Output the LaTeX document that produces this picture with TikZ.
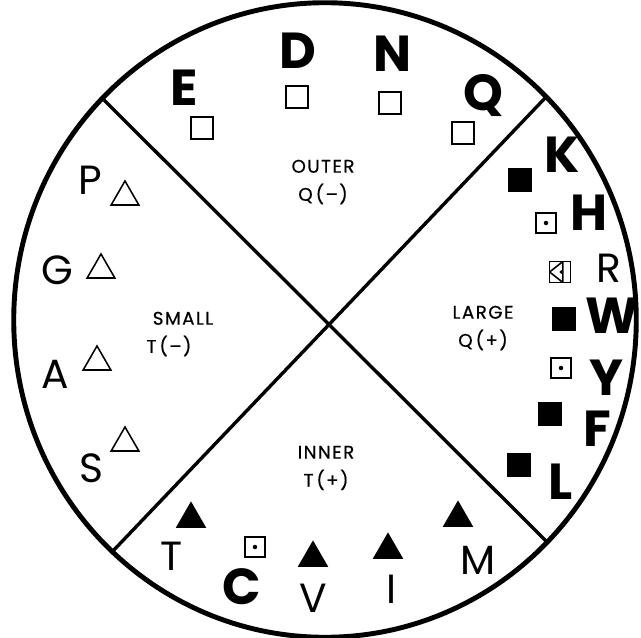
\documentclass[tikz,border=0pt]{standalone}
\usepackage{fontspec}
\setmainfont{Poppins}
\usepackage{tikz}
\usetikzlibrary{shapes.geometric}

\begin{document}
\begin{tikzpicture}[x=0.025cm, y=-0.025cm,
	bigbold/.style={font=\fontsize{36}{36}\selectfont\bfseries, inner sep=0pt},
	bigthin/.style={font=\fontsize{29}{29}\selectfont, inner sep=0pt},
	zone/.style={font=\fontsize{13}{20}\selectfont\addfontfeature{LetterSpace=8,FakeBold=0.6},
		align=center, inner sep=0pt},
	opensq/.style={draw, line width=1.1pt, minimum size=0.55cm, inner sep=0pt},
	fullsq/.style={fill, minimum size=0.6cm, inner sep=0pt},
	dotsq/.style={draw, line width=1.1pt, minimum size=0.5cm, inner sep=0pt,
		path picture={\fill (path picture bounding box.center) circle (1.6pt);}},
	opentri/.style={draw, line width=1.1pt, regular polygon, regular polygon sides=3,
		minimum size=0.8cm, inner sep=0pt},
	fulltri/.style={fill, regular polygon, regular polygon sides=3,
		minimum size=0.88cm, inner sep=0pt}]
	\useasboundingbox (0,0) rectangle (641,638);
	% outline and the two crossing chords
	\coordinate (hub) at (325,320);
	\draw[line width=3.5pt] (hub) ellipse [x radius=7.78cm, y radius=7.93cm];
	\coordinate (nw) at (104,100);
	\coordinate (se) at (548,543);
	\coordinate (ne) at (547,96);
	\coordinate (sw) at (112,552);
	\draw[line width=2.4pt] (nw) -- (se);
	\draw[line width=2.4pt] (ne) -- (sw);
	% quadrant names
	\node[zone] (outer) at (323,182) {OUTER\\Q\,(--)};
	\node[zone] (small) at (183,334) {SMALL\\\hspace*{-20pt}T\,(--)};
	\node[zone] (large) at (483,328) {LARGE\\Q\,(+)};
	\node[zone] (inner) at (326,468) {INNER\\T\,(+)};
	% top: open squares
	\node[bigbold] (lblE) at (184,88) {E};
	\node[opensq] (symE) at (202,128) {};
	\node[bigbold] (lblD) at (298,51) {D};
	\node[opensq] (symD) at (297,97) {};
	\node[bigbold] (lblN) at (393,54) {N};
	\node[opensq] (symN) at (390,103) {};
	\node[bigbold] (lblQ) at (483,96) {Q};
	\node[opensq] (symQ) at (463,133) {};
	% right: filled and marked squares
	\node[bigbold] (lblK) at (562,155) {K};
	\node[fullsq] (symK) at (520,180) {};
	\node[bigbold] (lblH) at (589,213) {H};
	\node[dotsq] (symH) at (546,223) {};
	\node[bigthin] (lblR) at (609,268) {R};
	\node[draw, line width=1.1pt, minimum size=0.52cm, inner sep=0pt,
		path picture={
			\draw[line width=1.1pt] ([xshift=2pt]path picture bounding box.north)
			-- (path picture bounding box.west)
			-- ([xshift=2pt]path picture bounding box.south) -- cycle;
			\fill ([xshift=1pt]path picture bounding box.center) circle (1.4pt);}]
		(symR) at (560,272) {};
	\node[bigbold] (lblW) at (612,316) {W};
	\node[fullsq] (symW) at (564,319) {};
	\node[bigbold] (lblY) at (606,378) {Y};
	\node[dotsq] (symY) at (561,368) {};
	\node[bigbold] (lblF) at (597,429) {F};
	\node[fullsq] (symF) at (550,414) {};
	\node[bigbold] (lblL) at (561,482) {L};
	\node[fullsq] (symL) at (519,465) {};
	% bottom: filled triangles
	\node[bigthin] (lblT) at (172,556) {T};
	\node[fulltri] (symT) at (191,519) {};
	\node[bigbold] (lblC) at (242,587) {C};
	\node[dotsq] (symC) at (255,547) {};
	\node[bigthin] (lblV) at (313,598) {V};
	\node[fulltri] (symV) at (313,558) {};
	\node[bigthin] (lblI) at (392,589) {I};
	\node[fulltri] (symI) at (388,550) {};
	\node[bigthin] (lblM) at (478,560) {M};
	\node[fulltri] (symM) at (458,518) {};
	% left: open triangles
	\node[bigthin] (lblP) at (90,180) {P};
	\node[opentri] (symP) at (125,197) {};
	\node[bigthin] (lblG) at (57,270) {G};
	\node[opentri] (symG) at (101,270) {};
	\node[bigthin] (lblA) at (55,374) {A};
	\node[opentri] (symA) at (97,362) {};
	\node[bigthin] (lblS) at (91,468) {S};
	\node[opentri] (symS) at (125,443) {};
\end{tikzpicture}
\end{document}
